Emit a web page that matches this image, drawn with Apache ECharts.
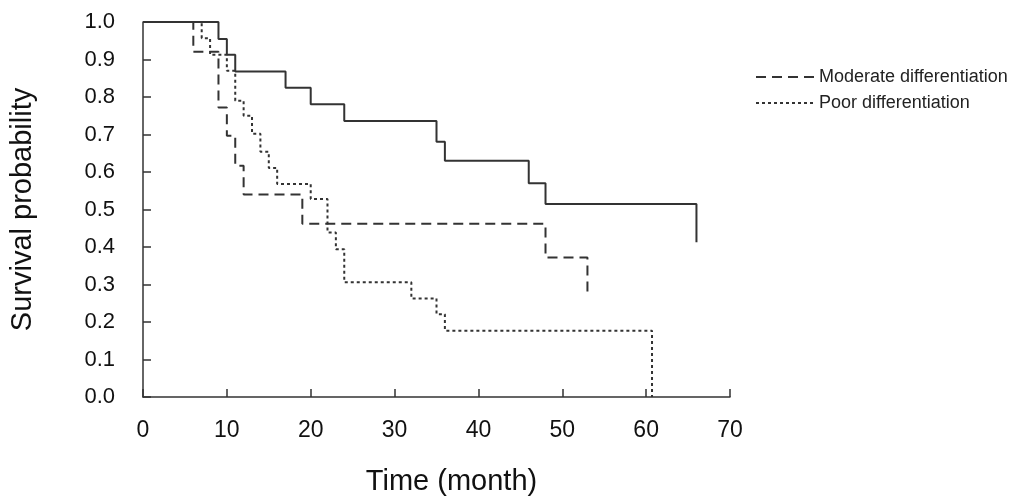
<!DOCTYPE html>
<html>
<head>
<meta charset="utf-8">
<script src="https://cdn.jsdelivr.net/npm/echarts@6/dist/echarts.min.js"></script>
<style>
html,body{margin:0;padding:0;background:#fff;}
#main{width:1024px;height:503px;}
</style>
</head>
<body>
<div id="main"></div>
<script>
// Kaplan-Meier step points [time (month), survival probability]
var wellTimes = [0, 9, 10, 11, 17, 20, 24, 35, 36, 46, 48, 66];
var wellSurv  = [1.0, 0.955, 0.913, 0.868, 0.825, 0.781, 0.736, 0.681, 0.630, 0.570, 0.515, 0.413];

var moderateTimes = [0, 6, 9, 10, 11, 12, 19, 48, 53];
var moderateSurv  = [1.0, 0.921, 0.772, 0.697, 0.617, 0.540, 0.462, 0.372, 0.278];

var poorTimes = [0, 7, 8, 10, 11, 12, 13, 14, 15, 16, 20, 22, 23, 24, 32, 35, 36, 60.7];
var poorSurv  = [1.0, 0.957, 0.913, 0.870, 0.790, 0.750, 0.702, 0.654, 0.611, 0.568, 0.528, 0.439, 0.394, 0.306, 0.263, 0.221, 0.177, 0.0];

var xTicks = [0, 10, 20, 30, 40, 50, 60, 70];
var yTicks = [0.0, 0.1, 0.2, 0.3, 0.4, 0.5, 0.6, 0.7, 0.8, 0.9, 1.0];

var seriesNames = ['Well differentiation', 'Moderate differentiation', 'Poor differentiation'];

function pairs(t, s) { return t.map(function (v, i) { return [v, s[i]]; }); }

var chart = echarts.init(document.getElementById('main'));
var FONT = 'Liberation Sans, Arial, sans-serif';
var AX = '#333';

chart.setOption({
  animation: false,
  backgroundColor: '#fff',
  grid: { left: 142, right: 294, top: 22, bottom: 106 },
  legend: {
    data: [seriesNames[1], seriesNames[2]],
    orient: 'vertical',
    left: 750,
    top: 63,
    itemWidth: 58,
    itemHeight: 16,
    itemGap: 8,
    itemStyle: { opacity: 0 },
    textStyle: { fontFamily: FONT, fontSize: 18, color: '#222' }
  },
  xAxis: {
    type: 'value',
    min: 0, max: 70, interval: 10,
    name: 'Time (month)',
    nameLocation: 'middle',
    nameGap: 70,
    nameTextStyle: { fontFamily: FONT, fontSize: 29, color: '#111', padding: [0, 0, 0, 30] },
    axisLine: { lineStyle: { color: AX, width: 1.5 } },
    axisTick: { inside: true, length: 8, lineStyle: { color: AX, width: 1.5 } },
    axisLabel: { fontFamily: FONT, fontSize: 23, color: '#111', margin: 22,
      formatter: function (v) { return xTicks.indexOf(v) >= 0 ? String(v) : ''; } },
    splitLine: { show: false }
  },
  yAxis: {
    type: 'value',
    min: 0, max: 1, interval: 0.1,
    name: 'Survival probability',
    nameLocation: 'middle',
    nameRotate: 90,
    nameGap: 106,
    nameTextStyle: { fontFamily: FONT, fontSize: 29, color: '#111' },
    axisLine: { show: true, lineStyle: { color: AX, width: 1.5 } },
    axisTick: { show: true, inside: true, length: 8, lineStyle: { color: AX, width: 1.5 } },
    axisLabel: { fontFamily: FONT, fontSize: 22, color: '#111', margin: 28,
      formatter: function (v) { return v.toFixed(1); } },
    splitLine: { show: false }
  },
  series: [
    {
      name: seriesNames[0], type: 'line', step: 'end', symbol: 'none',
      data: pairs(wellTimes, wellSurv),
      lineStyle: { color: '#333', width: 2, type: 'solid' },
      itemStyle: { color: '#333' }
    },
    {
      name: seriesNames[1], type: 'line', step: 'end', symbol: 'none',
      data: pairs(moderateTimes, moderateSurv),
      lineStyle: { color: '#333', width: 2, type: [10, 6] },
      itemStyle: { color: '#333' }
    },
    {
      name: seriesNames[2], type: 'line', step: 'end', symbol: 'none',
      data: pairs(poorTimes, poorSurv),
      lineStyle: { color: '#333', width: 2, type: [3, 3] },
      itemStyle: { color: '#333' }
    }
  ]
});
</script>
</body>
</html>
